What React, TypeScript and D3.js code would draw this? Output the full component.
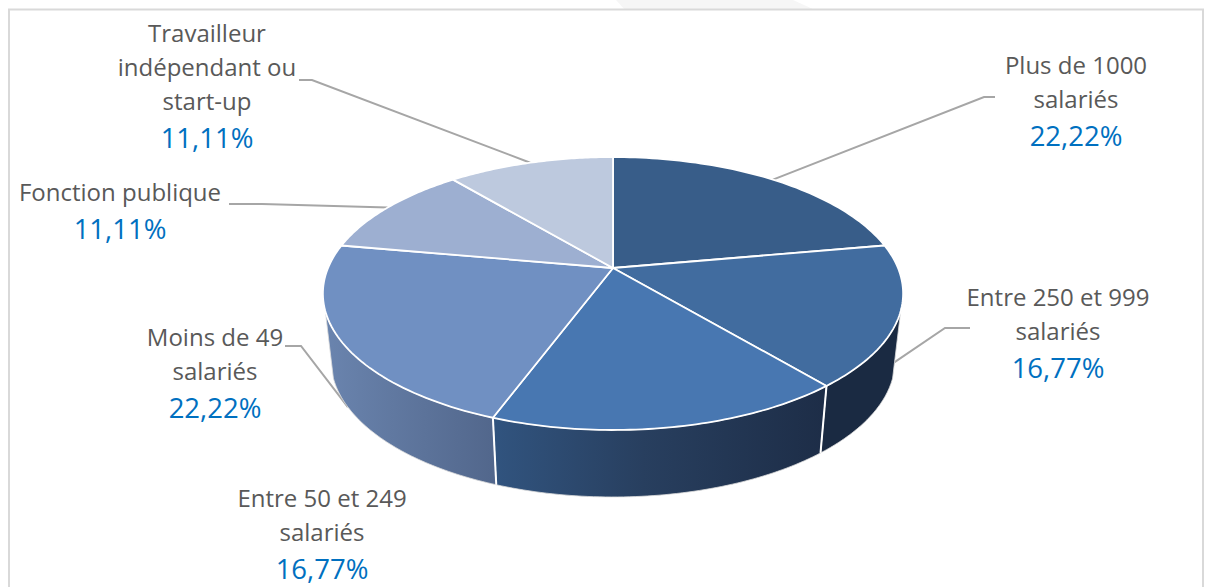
import React from "react";
import * as d3 from "d3";

const categories = [
  "Plus de 1000 salariés",
  "Entre 250 et 999 salariés",
  "Entre 50 et 249 salariés",
  "Moins de 49 salariés",
  "Fonction publique",
  "Travailleur indépendant ou start-up",
];
const values = [22.22, 16.77, 16.77, 22.22, 11.11, 11.11];
const valueLabels = ["22,22%", "16,77%", "16,77%", "22,22%", "11,11%", "11,11%"];
const topColors = ["#385d89", "#416c9f", "#4877b1", "#7090c2", "#9dafd1", "#bdc9de"];

// label layout: wrapped lines, centre x, first baseline, leader elbow points, leader depth on the wall
const labelLines = [
  ["Plus de 1000", "salariés"],
  ["Entre 250 et 999", "salariés"],
  ["Entre 50 et 249", "salariés"],
  ["Moins de 49", "salariés"],
  ["Fonction publique"],
  ["Travailleur", "indépendant ou", "start-up"],
];
const labelX = [1076, 1058, 322, 215, 120, 207];
const labelY = [74, 306, 507, 346, 201, 42];
const leaderPoints: number[][][] = [
  [[995, 97], [984, 97]],
  [[970, 328], [945, 328]],
  [],
  [[285, 346], [301, 346]],
  [[229, 204], [262, 204]],
  [[299, 80], [312, 80]],
];
const leaderDepth = [0, 0.7, 0, 1, 0, 0];

const WIDTH = 1214;
const HEIGHT = 587;
const cx = 613;
const cy = 268;
const depth = 67;
const TAU = Math.PI * 2;

// tilted disc: perspective map of the unit circle, same shape as the 3D pie in the picture
const rim = (angle: number, d = 0): [number, number] => {
  const u = Math.sin(angle);
  const v = -Math.cos(angle);
  const w = 1 - 0.187 * v;
  const shrink = 1 - 0.028 * d;
  return [cx + (285 * shrink * u) / w, cy + (131.7 * v) / w + depth * d];
};

const line = d3.line<[number, number]>();
const steps = (a: number, b: number) =>
  d3.range(0, 61).map((i) => a + ((b - a) * i) / 60);

const wallPath = (a: number, b: number) =>
  line([
    ...steps(a, b).map((t) => rim(t, 0)),
    ...steps(b, a).map((t) => rim(t, 1)),
  ]) + "Z";

const App = () => {
  const arcs = d3.pie<number>().sort(null).value((d) => d)(values);

  const wallStart = (TAU * 108) / 360;
  const wallEnd = (TAU * 252) / 360;
  const seam1 = arcs[1].endAngle;
  const seam2 = arcs[2].endAngle;
  const seamPts = (a: number) => line([rim(a, 0), rim(a, 1)]) || "";

  const font = "'Open Sans', sans-serif";

  return (
    <svg
      width={WIDTH}
      height={HEIGHT}
      style={{ position: "absolute", left: 0, top: 0, display: "block", background: "#fff" }}
    >
      <defs>
        <linearGradient id="wallMid" gradientUnits="userSpaceOnUse" x1={rim(seam2)[0]} x2={rim(seam1)[0]} y1={0} y2={0}>
          <stop offset="0" stopColor="#31547f" />
          <stop offset="0.45" stopColor="#283f5f" />
          <stop offset="1" stopColor="#1d2d47" />
        </linearGradient>
        <linearGradient id="wallLeft" gradientUnits="userSpaceOnUse" x1={rim(wallEnd)[0]} x2={rim(seam2)[0]} y1={0} y2={0}>
          <stop offset="0" stopColor="#6a84ae" />
          <stop offset="1" stopColor="#52678c" />
        </linearGradient>
      </defs>

      {/* faint watermark behind the frame */}
      <path d="M616,0L625,10L815,10L793,0Z" fill="#f6f6f6" />
      <rect x={9} y={9.5} width={1194} height={590} fill="none" stroke="#d9d9d9" strokeWidth={2} />

      {/* leader lines sit behind the pie */}
      {arcs.map((a, i) => {
        const pts = leaderPoints[i];
        if (!pts.length) return null;
        const mid = (a.startAngle + a.endAngle) / 2;
        return (
          <path
            key={i}
            d={line([...(pts as [number, number][]), rim(mid, leaderDepth[i])]) || ""}
            fill="none"
            stroke="#a6a6a6"
            strokeWidth={2}
          />
        );
      })}

      {/* side walls */}
      <path d={wallPath(wallStart, seam1)} fill="#1a2a42" stroke="#dcdcdc" strokeWidth={0.8} />
      <path d={wallPath(seam1, seam2)} fill="url(#wallMid)" stroke="#dcdcdc" strokeWidth={0.8} />
      <path d={wallPath(seam2, wallEnd)} fill="url(#wallLeft)" stroke="#dcdcdc" strokeWidth={0.8} />
      <path d={seamPts(seam1)} stroke="#fff" strokeWidth={2} />
      <path d={seamPts(seam2)} stroke="#fff" strokeWidth={2} />

      {/* top face */}
      {arcs.map((a, i) => (
        <path
          key={i}
          d={line([[cx, cy], ...steps(a.startAngle, a.endAngle).map((t) => rim(t))]) + "Z"}
          fill={topColors[i]}
          stroke="#fff"
          strokeWidth={1.8}
          strokeLinejoin="round"
        >
          <title>{categories[i]}</title>
        </path>
      ))}

      {/* labels */}
      {labelLines.map((lines, i) => (
        <g key={i} textAnchor="middle" fontFamily={font}>
          {lines.map((t, j) => (
            <text key={j} x={labelX[i]} y={labelY[i] + j * 34} fontSize={24} fill="#595959">
              {t}
            </text>
          ))}
          <text x={labelX[i]} y={labelY[i] + (lines.length - 1) * 34 + 38} fontSize={27.5} fill="#0070c0">
            {valueLabels[i]}
          </text>
        </g>
      ))}
    </svg>
  );
};

export default App;
